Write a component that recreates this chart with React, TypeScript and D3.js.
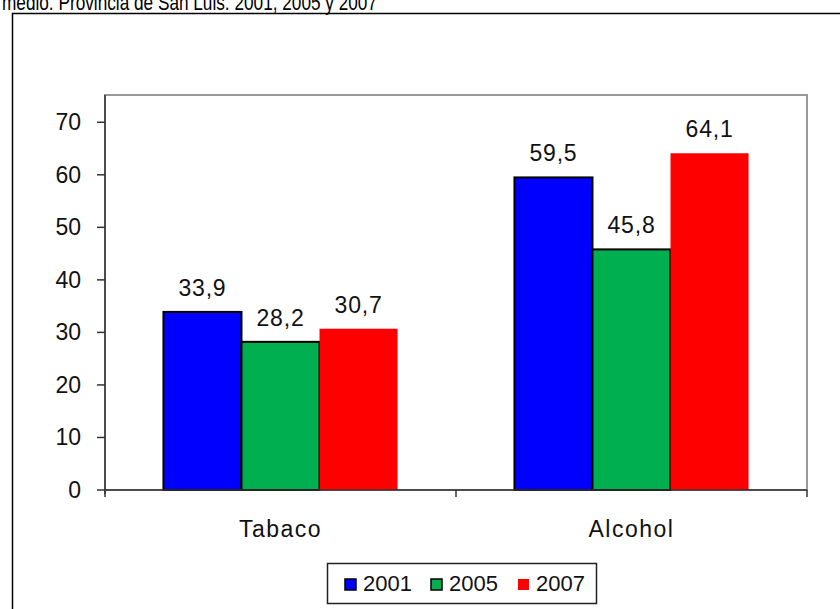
import React from 'react';
import * as d3 from 'd3';

const categories = ['Tabaco', 'Alcohol'];
const years = ['2001', '2005', '2007'];
const v2001 = [33.9, 59.5];
const v2005 = [28.2, 45.8];
const v2007 = [30.7, 64.1];
const yTicks = [0, 10, 20, 30, 40, 50, 60, 70];
const colors = ['#0000ff', '#00b050', '#ff0000'];
const stroked = [true, true, false];

const W = 840;
const H = 609;
const font = '"Liberation Sans", Arial, sans-serif';

const App: React.FC = () => {
    const series = [v2001, v2005, v2007];
    const left = 105, right = 807, top = 96, bottom = 490;

    const x0 = d3.scaleBand().domain(categories).range([left, right]).paddingInner(0.333).paddingOuter(0.1665);
    const x1 = d3.scaleBand().domain(years).range([0, x0.bandwidth()]);
    const y = d3.scaleLinear().domain([0, 75]).range([bottom, top]);

    const fmt = (v: number) => v.toFixed(1).replace('.', ',');

    return (
        <svg width={W} height={H} style={{ position: 'absolute', left: 0, top: 0, background: '#fff' }} fontFamily={font}>
            {/* título cortado arriba */}
            <text x={2} y={10} fontSize={22} textLength={375} lengthAdjust="spacingAndGlyphs">medio. Provincia de San Luis. 2001, 2005 y 2007</text>

            {/* marco exterior */}
            <rect x={12.5} y={13.5} width={W} height={H} fill="none" stroke="#000" strokeWidth={1.5} />

            {/* área de trazado */}
            <rect x={left} y={top - 1} width={right - left} height={bottom - top + 1} fill="none" stroke="#999" strokeWidth={2} />

            {/* barras */}
            {categories.map((c, ci) => (
                <g key={c} transform={`translate(${x0(c)},0)`}>
                    {years.map((yr, si) => {
                        const v = series[si][ci];
                        const bx = x1(yr)!;
                        return (
                            <g key={yr}>
                                <rect
                                    x={bx}
                                    y={y(v)}
                                    width={x1.bandwidth()}
                                    height={bottom - y(v)}
                                    fill={colors[si]}
                                    stroke={stroked[si] ? '#000' : 'none'}
                                    strokeWidth={2}
                                />
                                <text x={bx + x1.bandwidth() / 2} y={y(v) - 16} textAnchor="middle" fontSize={23} letterSpacing={0.8} fill="#111">{fmt(v)}</text>
                            </g>
                        );
                    })}
                </g>
            ))}

            {/* eje y */}
            <line x1={left} x2={left} y1={top - 1} y2={bottom + 4} stroke="#333" strokeWidth={1.5} />
            {yTicks.map(t => (
                <g key={t}>
                    <line x1={left - 8} x2={left} y1={y(t)} y2={y(t)} stroke="#333" strokeWidth={1.5} />
                    <text x={81} y={y(t) + 8} textAnchor="end" fontSize={23} fill="#111">{t}</text>
                </g>
            ))}

            {/* eje x */}
            <line x1={left} x2={right} y1={bottom} y2={bottom} stroke="#333" strokeWidth={1.5} />
            {[left, (left + right) / 2, right].map((tx, i) => (
                <line key={i} x1={tx} x2={tx} y1={bottom} y2={bottom + 7} stroke="#333" strokeWidth={1.5} />
            ))}
            {categories.map(c => (
                <text key={c} x={x0(c)! + x0.bandwidth() / 2} y={537} textAnchor="middle" fontSize={23} letterSpacing={1.5} fill="#111">{c}</text>
            ))}

            {/* leyenda */}
            <rect x={327.5} y={563.5} width={269} height={40} fill="#fff" stroke="#222" strokeWidth={1.5} />
            {years.map((yr, i) => {
                const lx = [345, 431, 518][i];
                return (
                    <g key={yr}>
                        <rect x={lx} y={579} width={11} height={11} fill={colors[i]} stroke={stroked[i] ? '#000' : 'none'} strokeWidth={1.5} />
                        <text x={lx + 18} y={591} fontSize={22} fill="#111">{yr}</text>
                    </g>
                );
            })}
        </svg>
    );
};

export default App;
